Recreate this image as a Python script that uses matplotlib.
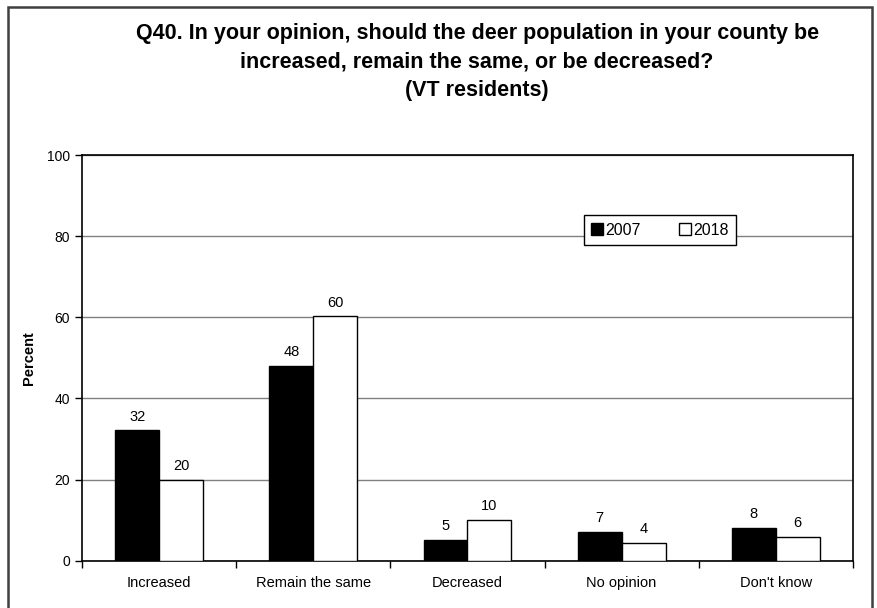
import numpy as np
import matplotlib
matplotlib.use('Agg')
import matplotlib.pyplot as plt
from matplotlib.patches import Rectangle

plt.rcParams['font.family'] = ['Liberation Sans', 'DejaVu Sans']

# data
categories = ['Increased', 'Remain the same', 'Decreased', 'No opinion', "Don't know"]
vals_2007 = [32.1, 48.1, 5.1, 7.1, 8.1]
vals_2018 = [19.8, 60.2, 10.0, 4.3, 5.8]
series_names = ['2007', '2018']

fig = plt.figure(figsize=(8.77, 6.08), dpi=100)
ax = fig.add_axes([0.0935, 0.0778, 0.879, 0.6672])

x = np.arange(len(categories))
w = 0.285
b1 = ax.bar(x - w / 2, vals_2007, w, color='black', edgecolor='black', linewidth=1, label=series_names[0], zorder=3)
b2 = ax.bar(x + w / 2, vals_2018, w, color='white', edgecolor='black', linewidth=1, label=series_names[1], zorder=3)

for bars in (b1, b2):
    for r in bars:
        h = r.get_height()
        ax.annotate('%d' % round(h), (r.get_x() + r.get_width() / 2, h),
                    xytext=(0, 5), textcoords='offset points',
                    ha='center', va='bottom', fontsize=10.5)

ax.set_xlim(-0.5, len(categories) - 0.5)
ax.set_ylim(0, 100)
ax.set_yticks([0, 20, 40, 60, 80, 100])
ax.tick_params(axis='y', labelsize=10, direction='out', length=5, width=1)
ax.set_xticks(x)
ax.set_xticklabels(categories, fontsize=10.5)
ax.set_xticks(np.arange(-0.5, len(categories), 1), minor=True)
ax.tick_params(axis='x', which='major', length=0, pad=11)
ax.tick_params(axis='x', which='minor', direction='out', length=5, width=1)
ax.grid(axis='y', color='#808080', linewidth=1, zorder=0)
for s in ax.spines.values():
    s.set_linewidth(1.2)
ax.set_ylabel('Percent', fontsize=10.5, fontweight='bold', labelpad=8)

leg = ax.legend(loc='center', bbox_to_anchor=(0.75, 0.815), ncol=2, fontsize=11.5,
                frameon=True, fancybox=False, edgecolor='black', framealpha=1,
                handlelength=0.75, handleheight=0.75, handletextpad=0.15,
                columnspacing=2.4, borderpad=0.45)
leg.get_frame().set_linewidth(1)

fig.text(0.544, 0.962,
         'Q40. In your opinion, should the deer population in your county be\n'
         'increased, remain the same, or be decreased?\n(VT residents)',
         ha='center', va='top', fontsize=15.5, fontweight='bold', linespacing=1.47)

# outer chart border (bottom edge is cut off in the original)
fig.patches.append(Rectangle((0.0091, -0.02), 0.9852, 1.0085, transform=fig.transFigure,
                             fill=False, edgecolor='#404040', linewidth=1.8))

fig.savefig('out.png', dpi=100)
